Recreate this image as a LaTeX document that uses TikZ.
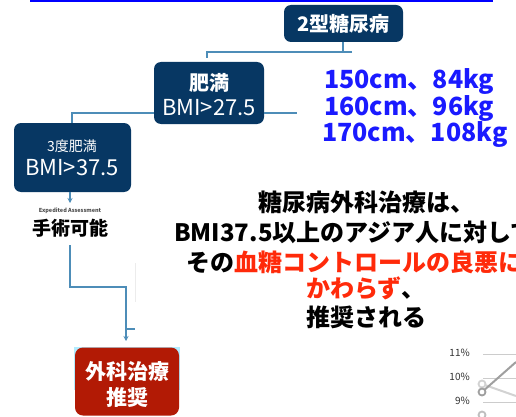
\documentclass[tikz,border=0pt]{standalone}
\usepackage{fontspec}
\setmainfont{Noto Sans CJK JP}
\usetikzlibrary{arrows.meta}
\definecolor{navy}{HTML}{073763}
\definecolor{redbox}{HTML}{B21A05}
\definecolor{connblue}{HTML}{4D8DB8}
\definecolor{bluetxt}{HTML}{1A1AFF}
\definecolor{redtxt}{HTML}{FF2A0A}
\definecolor{topblue}{HTML}{0000FF}
\tikzset{
  navybox/.style={fill=navy, rounded corners=7pt, text=white, inner sep=0pt, align=center},
  redboxst/.style={fill=redbox, rounded corners=8pt, text=white, inner sep=0pt, align=center},
  conn/.style={draw=connblue, line width=1.3pt},
  arr/.style={conn, -{Stealth[length=5pt,width=5pt]}},
  bluetext/.style={text=bluetxt, anchor=west, inner sep=0pt, font=\bfseries\fontsize{25}{25}\selectfont},
  bigtext/.style={inner sep=0pt, font=\bfseries\fontsize{24}{24}\selectfont},
  grid/.style={draw=gray!40, line width=0.8pt},
  pct/.style={anchor=east, inner sep=0pt, font=\fontsize{10}{10}\selectfont, text=black!80}
}
\begin{document}
\begin{tikzpicture}[x=1pt,y=-1pt]
\useasboundingbox (0,0) rectangle (516,417);
\clip (0,0) rectangle (516,417);
\fill[white] (0,0) rectangle (516,417);
% top blue line
\coordinate (tl) at (30,0.8);
\coordinate (tr) at (493,0.8);
\draw[topblue, line width=1.6pt] (tl) -- (tr);

% boxes
\node[navybox, minimum width=119pt, minimum height=37pt] (b1) at (343.5,23.5)
  {\bfseries\fontsize{20}{20}\selectfont 2型糖尿病};
\node[navybox, minimum width=110pt, minimum height=62pt] (b2) at (209,93) {};
\node[text=white, inner sep=0pt, font=\bfseries\fontsize{20}{20}\selectfont] (b2a) at (209,83) {肥満};
\node[text=white, inner sep=0pt, font=\fontsize{22}{22}\selectfont] (b2b) at (209,108) {BMI>27.5};
\node[navybox, minimum width=117pt, minimum height=69pt] (b3) at (72.5,157.5) {};
\node[text=white, inner sep=0pt, font=\fontsize{14}{14}\selectfont] (b3a) at (72,146) {3度肥満};
\node[text=white, inner sep=0pt, font=\fontsize{22}{22}\selectfont] (b3b) at (72,168) {BMI>37.5};
\fill[blue!25!cyan!30] (74,347) rectangle (180,390);
\node[redboxst, minimum width=104pt, minimum height=68pt] (b4) at (127,381.5) {};
\node[text=white, inner sep=0pt, font=\bfseries\fontsize{21}{21}\selectfont] (b4a) at (127,372) {外科治療};
\node[text=white, inner sep=0pt, font=\bfseries\fontsize{21}{21}\selectfont] (b4b) at (127,398) {推奨};

% labels
\node[inner sep=0pt, text=black!70, font=\bfseries\fontsize{5.5}{6}\selectfont] (exp) at (70,211) {Expedited Assessment};
\node[inner sep=0pt, font=\bfseries\fontsize{19}{19}\selectfont] (op) at (70,228) {手術可能};

% connectors
\coordinate (c1a) at (343,52);
\coordinate (c1b) at (352,52);
\coordinate (c1c) at (207,52);
\coordinate (c1d) at (207,58);
\draw[conn] (b1.south -| c1a) -- (c1a);
\draw[conn] (c1b) -- (c1c) -- (c1d);
\coordinate (c2r) at (297,113);
\draw[conn] (b2.east |- c2r) -- (c2r);
\coordinate (c2l) at (72,113);
\draw[conn] (b2.west |- c2l) -- (c2l) -- (b3.north -| c2l);
\coordinate (c3e) at (70,203);
\draw[arr] (b3.south -| c3e) -- (c3e);
\coordinate (c4a) at (70,245);
\coordinate (c4b) at (70,287);
\coordinate (c4c) at (126,287);
\coordinate (c4d) at (126,341);
\draw[arr] (c4a) -- (c4b) -- (c4c) -- (c4d);
\coordinate (t1) at (126,329);
\coordinate (t2) at (135,329);
\draw[conn] (t1) -- (t2);
\coordinate (f1) at (135,263);
\coordinate (f2) at (135,302);
\draw[gray!15, line width=0.8pt] (f1) -- (f2);

% blue text
\node[bluetext] (h1) at (324,82) {150cm、84kg};
\node[bluetext] (h2) at (324,108) {160cm、96kg};
\node[bluetext] (h3) at (322,134) {170cm、108kg};

% main text
\node[bigtext] (m1) at (366,202) {糖尿病外科治療は、};
\node[bigtext] (m2) at (366,232) {BMI37.5以上のアジア人に対して、};
\node[bigtext] (m3) at (366,262) {その\textcolor{redtxt}{血糖コントロールの良悪にか}};
\node[bigtext] (m4) at (366,288) {\textcolor{redtxt}{かわらず}、};
\node[bigtext] (m5) at (366,317) {推奨される};

% chart fragment
\node[pct] (p11) at (470,353) {11\%};
\node[pct] (p10) at (470,377) {10\%};
\node[pct] (p9) at (470,401) {9\%};
\coordinate (g1a) at (483,354); \coordinate (g1b) at (516,354);
\coordinate (g2a) at (483,378); \coordinate (g2b) at (516,378);
\coordinate (g3a) at (483,402); \coordinate (g3b) at (516,402);
\draw[grid] (g1a) -- (g1b);
\draw[grid] (g2a) -- (g2b);
\draw[grid] (g3a) -- (g3b);
\coordinate (la) at (482,384); \coordinate (lb) at (516,396);
\draw[gray!35, line width=2pt] (la) -- (lb);
\coordinate (da) at (482,392); \coordinate (db) at (516,362);
\draw[gray!75, line width=2pt] (da) -- (db);
\node[circle, draw=gray!35, line width=1.8pt, fill=white, minimum size=7pt, inner sep=0pt] (mk1) at (la) {};
\node[circle, draw=gray!75, line width=1.8pt, fill=white, minimum size=7pt, inner sep=0pt] (mk2) at (da) {};
\node[circle, draw=gray!50, line width=1.8pt, fill=white, minimum size=7pt, inner sep=0pt] (mk3) at (482,415) {};
\end{tikzpicture}
\end{document}
